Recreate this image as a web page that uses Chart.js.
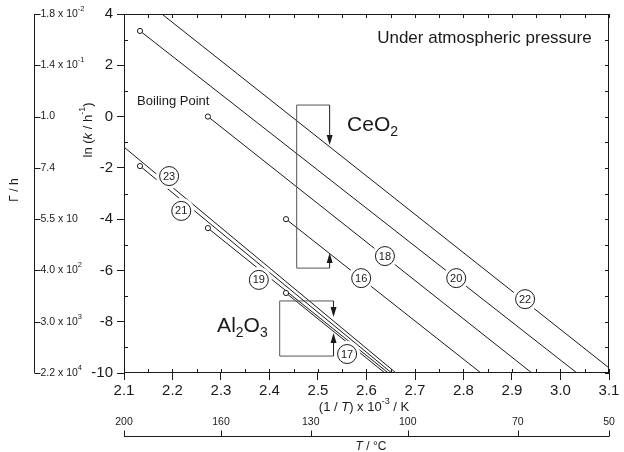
<!DOCTYPE html>
<html>
<head>
<meta charset="utf-8">
<script src="https://cdn.jsdelivr.net/npm/chart.js@4"></script>
<style>
  html, body { margin: 0; padding: 0; background: #fff; }
  #wrap { width: 624px; height: 452px; }
</style>
</head>
<body>
<div id="wrap"><canvas id="chart"></canvas></div>
<script>
// (1/T) x 10^-3 and ln k at start / end of each line
const ceo2Names = ['16', '18', '20', '22'];
const ceo2X = [[2.434, 2.836], [2.273, 2.941], [2.133, 3.034], [2.178, 3.1]];
const ceo2Y = [[-4.0, -10], [0.0, -10], [3.34, -10], [4.0, -9.8]];
const ceo2Boil = [true, true, true, false];
const ceo2TagX = [2.589, 2.638, 2.785, 2.927];
const ceo2TagY = [-6.30, -5.44, -6.30, -7.12];

const al2o3Names = ['17', '19', '21', '23'];
const al2o3X = [[2.434, 2.638], [2.273, 2.645], [2.133, 2.652], [2.1, 2.661]];
const al2o3Y = [[-6.88, -10], [-4.35, -10], [-1.93, -10], [-1.19, -10]];
const al2o3Boil = [true, true, true, false];
const al2o3TagX = [2.560, 2.378, 2.218, 2.193];
const al2o3TagY = [-9.26, -6.37, -3.68, -2.32];

// axes
const xTicks = [2.1, 2.2, 2.3, 2.4, 2.5, 2.6, 2.7, 2.8, 2.9, 3.0, 3.1];
const yTicks = [4, 2, 0, -2, -4, -6, -8, -10];
const tauText = ['1.8 x 10', '1.4 x 10', '1.0', '7.4', '5.5 x 10', '4.0 x 10', '3.0 x 10', '2.2 x 10'];
const tauExp = ['-2', '-1', '', '', '', '2', '3', '4'];
const tempText = ['200', '160', '130', '100', '70', '50'];
const tempAt = [2.1, 2.30, 2.485, 2.685, 2.912, 3.1];

const FONT = '"Liberation Sans", Arial, sans-serif';
const INK = '#1a1a1a';

function makeSets(xs, ys, boil) {
  return xs.map((xx, i) => ({
    data: [{ x: xx[0], y: ys[i][0] }, { x: xx[1], y: ys[i][1] }],
    showLine: true,
    borderColor: INK,
    borderWidth: 1,
    pointRadius: boil[i] ? [2.6, 0] : 0,
    pointBackgroundColor: '#fff',
    pointBorderColor: INK,
    pointBorderWidth: 1
  }));
}

function rich(ctx, parts, x, y, align) {
  let w = 0;
  parts.forEach(p => {
    ctx.font = (p.i ? 'italic ' : '') + p.s + 'px ' + FONT;
    p.w = ctx.measureText(p.t).width;
    w += p.w;
  });
  let cx = align === 'center' ? x - w / 2 : align === 'right' ? x - w : x;
  ctx.textAlign = 'left';
  ctx.textBaseline = 'middle';
  parts.forEach(p => {
    ctx.font = (p.i ? 'italic ' : '') + p.s + 'px ' + FONT;
    ctx.fillText(p.t, cx, y + (p.dy || 0));
    cx += p.w;
  });
}

function arrow(ctx, x, y0, y1) {
  const d = y1 > y0 ? 1 : -1;
  ctx.beginPath();
  ctx.moveTo(x, y0);
  ctx.lineTo(x, y1 - d * 8);
  ctx.stroke();
  ctx.beginPath();
  ctx.moveTo(x, y1);
  ctx.lineTo(x - 3, y1 - d * 10);
  ctx.lineTo(x + 3, y1 - d * 10);
  ctx.closePath();
  ctx.fill();
}

const decor = {
  id: 'decor',
  afterDatasetsDraw(chart) {
    const { ctx, chartArea: a, scales: { x, y } } = chart;
    ctx.save();
    ctx.strokeStyle = INK;
    ctx.fillStyle = INK;
    ctx.lineWidth = 1;

    // frame
    ctx.strokeRect(a.left + 0.5, a.top + 0.5, a.right - a.left - 1, a.bottom - a.top - 1);

    // minor ticks
    ctx.beginPath();
    for (let v = 2.1; v <= 3.1001; v += 0.05) {
      const px = Math.round(x.getPixelForValue(v)) + 0.5;
      ctx.moveTo(px, a.top); ctx.lineTo(px, a.top + 4);
      ctx.moveTo(px, a.bottom); ctx.lineTo(px, a.bottom - 4);
    }
    for (let v = -10; v <= 4; v += 1) {
      const py = Math.round(y.getPixelForValue(v)) + 0.5;
      ctx.moveTo(a.right, py); ctx.lineTo(a.right - 4, py);
      if (v % 2 !== 0) { ctx.moveTo(a.left, py); ctx.lineTo(a.left + 4, py); }
    }
    ctx.stroke();

    // line tags
    const tags = (names, tx, ty) => names.forEach((n, i) => {
      const px = x.getPixelForValue(tx[i]);
      const py = y.getPixelForValue(ty[i]);
      ctx.fillStyle = '#fff';
      ctx.beginPath(); ctx.arc(px, py, 13, 0, Math.PI * 2); ctx.fill();
      ctx.beginPath(); ctx.arc(px, py, 9.5, 0, Math.PI * 2); ctx.stroke();
      ctx.fillStyle = INK;
      rich(ctx, [{ t: n, s: 11 }], px, py + 0.5, 'center');
    });
    tags(ceo2Names, ceo2TagX, ceo2TagY);
    tags(al2o3Names, al2o3TagX, al2o3TagY);

    // brackets with arrows
    const bracket = (x0, x1, top, bot, tipTop, tipBot) => {
      const l = x.getPixelForValue(x0) + 0.5, r = x.getPixelForValue(x1) + 0.5;
      const t = y.getPixelForValue(top), b = y.getPixelForValue(bot);
      ctx.strokeStyle = '#555';
      ctx.beginPath();
      ctx.moveTo(r, t); ctx.lineTo(l, t); ctx.lineTo(l, b); ctx.lineTo(r, b);
      ctx.stroke();
      ctx.strokeStyle = INK;
      arrow(ctx, r, t, y.getPixelForValue(tipTop));
      arrow(ctx, r, b, y.getPixelForValue(tipBot));
    };
    bracket(2.455, 2.523, 0.45, -5.91, -1.11, -5.32);
    bracket(2.420, 2.531, -7.19, -9.34, -7.82, -8.44);

    // texts
    ctx.fillStyle = INK;
    rich(ctx, [{ t: 'Under atmospheric pressure', s: 17 }], x.getPixelForValue(2.622), y.getPixelForValue(3.06), 'left');
    rich(ctx, [{ t: 'Boiling Point', s: 13 }], x.getPixelForValue(2.127), y.getPixelForValue(0.61), 'left');
    rich(ctx, [{ t: 'CeO', s: 21 }, { t: '2', s: 14, dy: 7 }], x.getPixelForValue(2.560), y.getPixelForValue(-0.33), 'left');
    rich(ctx, [{ t: 'Al', s: 21 }, { t: '2', s: 14, dy: 7 }, { t: 'O', s: 21 }, { t: '3', s: 14, dy: 7 }],
      x.getPixelForValue(2.292), y.getPixelForValue(-8.17), 'left');

    // axis titles
    rich(ctx, [{ t: '(1 / ', s: 13 }, { t: 'T', s: 13, i: true }, { t: ') x 10', s: 13 }, { t: '-3', s: 9, dy: -5 }, { t: ' / K', s: 13 }],
      364, 407, 'center');
    ctx.save();
    ctx.translate(88, 130);
    ctx.rotate(-Math.PI / 2);
    rich(ctx, [{ t: 'ln (', s: 13 }, { t: 'k', s: 13, i: true }, { t: ' / h', s: 13 }, { t: '-1', s: 9, dy: -5 }, { t: ')', s: 13 }], 0, 0, 'center');
    ctx.restore();

    // secondary left axis (Γ / h)
    const ax = 34.5;
    ctx.beginPath();
    ctx.moveTo(ax, y.getPixelForValue(4)); ctx.lineTo(ax, y.getPixelForValue(-10));
    yTicks.forEach(v => {
      const py = Math.round(y.getPixelForValue(v)) + 0.5;
      ctx.moveTo(ax, py); ctx.lineTo(ax + 6, py);
    });
    ctx.stroke();
    yTicks.forEach((v, i) => {
      const parts = [{ t: tauText[i], s: 10.5 }];
      if (tauExp[i]) parts.push({ t: tauExp[i], s: 7.5, dy: -5 });
      rich(ctx, parts, ax + 6, y.getPixelForValue(v), 'left');
    });
    ctx.save();
    ctx.translate(15, 190);
    ctx.rotate(-Math.PI / 2);
    rich(ctx, [{ t: 'Γ / h', s: 12 }], 0, 0, 'center');
    ctx.restore();

    // secondary bottom axis (T / °C)
    const ay = 436.5;
    ctx.beginPath();
    ctx.moveTo(x.getPixelForValue(2.1), ay); ctx.lineTo(x.getPixelForValue(3.1), ay);
    tempAt.forEach(v => {
      const px = Math.round(x.getPixelForValue(v)) + 0.5;
      ctx.moveTo(px, ay); ctx.lineTo(px, ay - 6);
    });
    ctx.stroke();
    tempAt.forEach((v, i) => rich(ctx, [{ t: tempText[i], s: 10.5 }], x.getPixelForValue(v), 422, 'center'));
    rich(ctx, [{ t: 'T', s: 12, i: true }, { t: ' / °C', s: 12 }], 371, 447, 'center');

    ctx.restore();
  }
};

new Chart(document.getElementById('chart'), {
  type: 'scatter',
  data: {
    datasets: makeSets(ceo2X, ceo2Y, ceo2Boil).concat(makeSets(al2o3X, al2o3Y, al2o3Boil))
  },
  options: {
    responsive: true,
    maintainAspectRatio: false,
    animation: false,
    layout: { padding: { top: 14, right: 15, left: 0, bottom: 0 } },
    plugins: { legend: { display: false }, tooltip: { enabled: false } },
    scales: {
      x: {
        type: 'linear', min: 2.1, max: 3.1,
        afterBuildTicks: s => { s.ticks = xTicks.map(v => ({ value: v })); },
        afterFit: s => { s.height = 79; },
        ticks: { color: INK, font: { family: FONT, size: 15 }, padding: 2, maxRotation: 0, autoSkip: false,
                 callback: v => v.toFixed(1) },
        grid: { drawOnChartArea: false, drawTicks: true, tickLength: 7, color: INK },
        border: { display: false }
      },
      y: {
        type: 'linear', min: -10, max: 4,
        afterBuildTicks: s => { s.ticks = yTicks.map(v => ({ value: v })); },
        afterFit: s => { s.width = 124; },
        ticks: { color: INK, font: { family: FONT, size: 15 }, padding: 4, autoSkip: false,
                 callback: v => String(v) },
        grid: { drawOnChartArea: false, drawTicks: true, tickLength: 7, color: INK },
        border: { display: false }
      }
    }
  },
  plugins: [decor]
});
</script>
</body>
</html>
